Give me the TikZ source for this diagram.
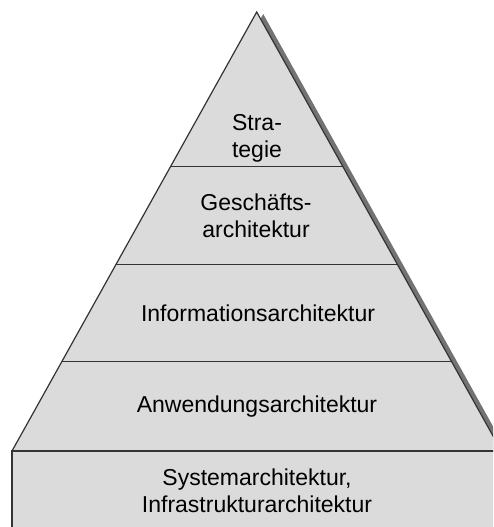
\documentclass[tikz,border=0pt]{standalone}
\usepackage{fontspec}
\setmainfont{Liberation Sans}
\begin{document}
\begin{tikzpicture}[x=1pt,y=-1pt,
  layerfill/.style={fill=black!14},
  edge/.style={draw=black!80,line width=1.2pt},
  divider/.style={draw=black!80,line width=1.4pt},
  label/.style={align=center,font=\fontsize{23}{27}\selectfont,inner sep=0pt}]
\useasboundingbox (0,0) rectangle (493,527);
\clip (0,0) rectangle (493,527);
% pyramid corners
\coordinate (apex) at (256.7,12);
\coordinate (bl) at (12,451);
\coordinate (br) at (501.4,451);
% drop shadow
\fill[black!55] ([shift={(6.5,2)}]apex) -- ([shift={(6.5,2)}]br) -- ([shift={(6.5,2)}]bl) -- cycle;
% pyramid body
\fill[layerfill] (apex) -- (br) -- (bl) -- cycle;
\draw[edge] (bl) -- (apex) -- (br);
% layer dividers
\draw[divider] (170.6,166.7) -- (342.8,166.7);
\draw[divider] (116.1,264.3) -- (397.3,264.3);
\draw[divider] (61.8,361.7) -- (451.6,361.7);
% base block
\fill[layerfill] (12,451) rectangle (510,540);
\draw[divider] (12,540) -- (12,451) -- (510,451);
% layer labels
\node[label] (strategie) at (257,138) {Stra-\\tegie};
\node[label] (geschaeft) at (256,216) {Geschäfts-\\architektur};
\node[label] (info) at (258,313) {Informationsarchitektur};
\node[label] (anw) at (257,407) {Anwendungsarchitektur};
\node[label] (system) at (257,491) {Systemarchitektur,\\Infrastrukturarchitektur};
\end{tikzpicture}
\end{document}
